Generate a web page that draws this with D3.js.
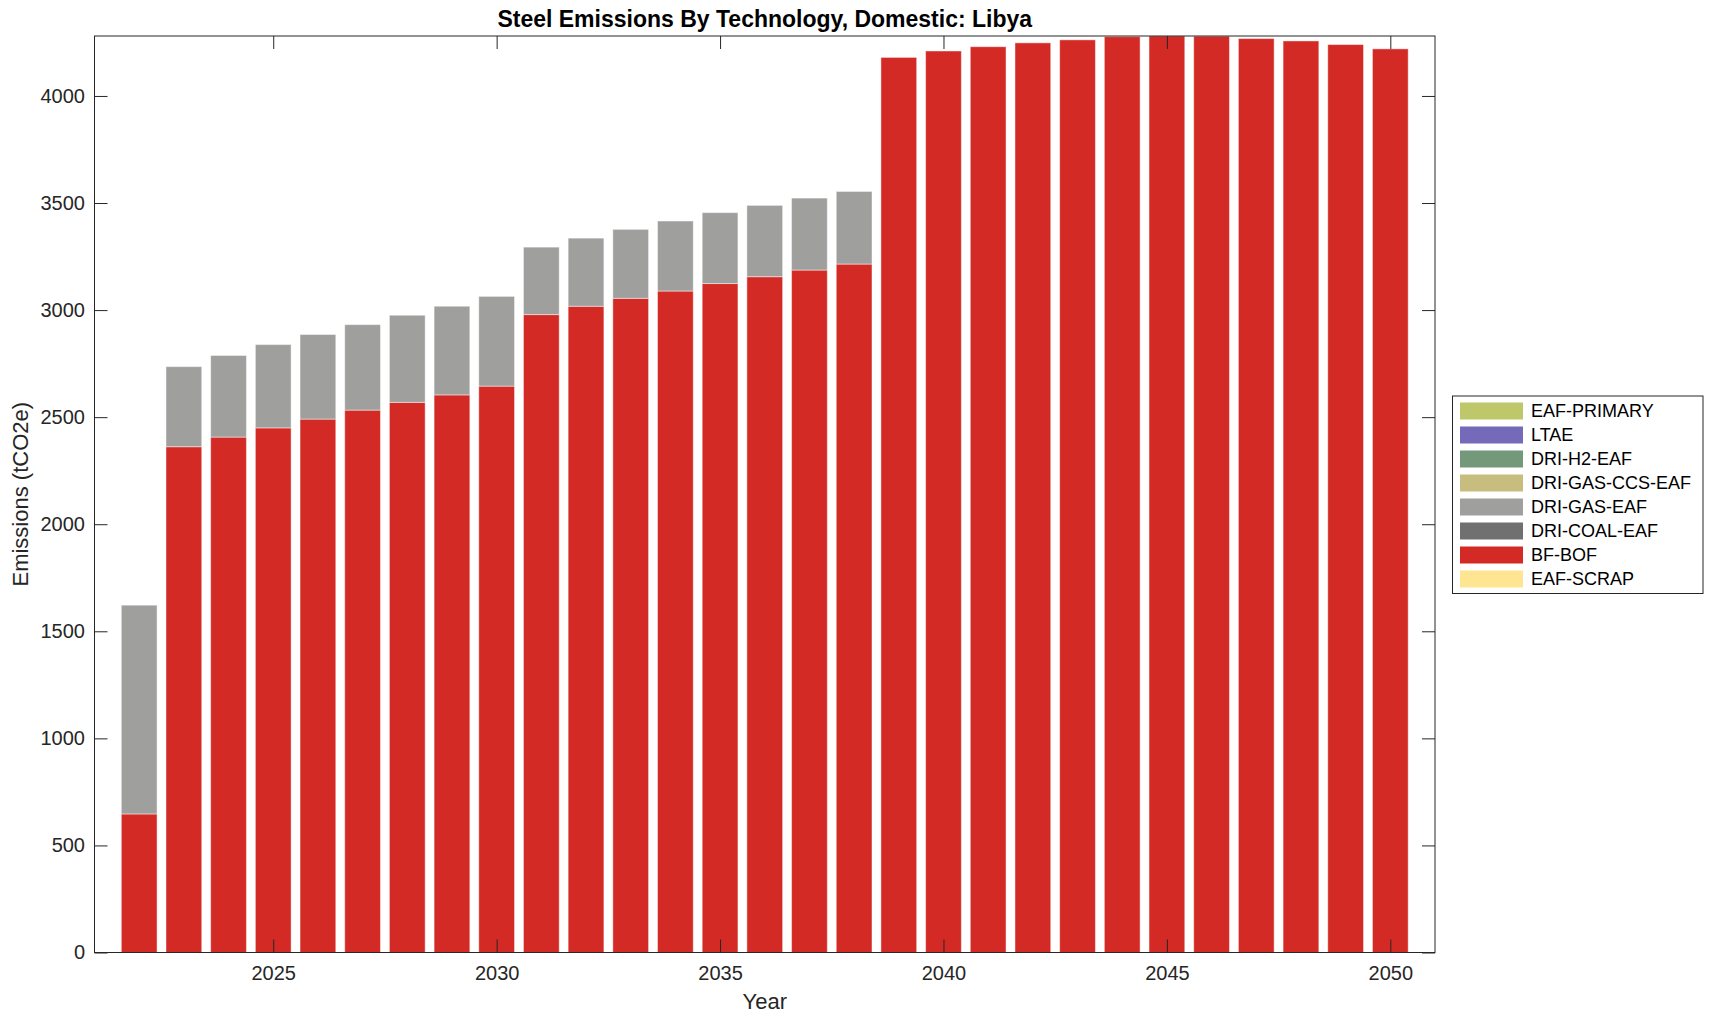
<!DOCTYPE html>
<html>
<head>
<meta charset="utf-8">
<script src="https://cdn.jsdelivr.net/npm/d3@7"></script>
<style>
  body { margin: 0; background: #fff; }
  text { font-family: "Liberation Sans", Arial, Helvetica, sans-serif; }
</style>
</head>
<body>
<div id="chart"></div>
<script>
const width = 1714, height = 1021;
const plotLeft = 94.5, plotRight = 1435, plotTop = 36, plotBottom = 952.5;

const years = [2022, 2023, 2024, 2025, 2026, 2027, 2028, 2029, 2030, 2031, 2032, 2033, 2034, 2035, 2036,
  2037, 2038, 2039, 2040, 2041, 2042, 2043, 2044, 2045, 2046, 2047, 2048, 2049, 2050];

// emissions per technology (tCO2e)
const bfBof = [647, 2362, 2407, 2450, 2491, 2533, 2569, 2604, 2645, 2979, 3018, 3055, 3089, 3124, 3156,
  3187, 3215, 4180, 4210, 4230, 4248, 4262, 4277, 4280, 4279, 4268, 4257, 4240, 4220];
const driGasEaf = [975, 374, 381, 389, 395, 399, 407, 414, 419, 315, 318, 322, 327, 331, 333,
  336, 339, 0, 0, 0, 0, 0, 0, 0, 0, 0, 0, 0, 0];
const noEmissions = [0, 0, 0, 0, 0, 0, 0, 0, 0, 0, 0, 0, 0, 0, 0, 0, 0, 0, 0, 0, 0, 0, 0, 0, 0, 0, 0, 0, 0];

// stacking order, bottom first
const techNames = ["EAF-SCRAP", "BF-BOF", "DRI-COAL-EAF", "DRI-GAS-EAF", "DRI-GAS-CCS-EAF", "DRI-H2-EAF", "LTAE", "EAF-PRIMARY"];
const techValues = [noEmissions, bfBof, noEmissions, driGasEaf, noEmissions, noEmissions, noEmissions, noEmissions];
const techColors = ["#fee592", "#d42a25", "#707070", "#9f9f9e", "#c6bd7e", "#73987a", "#756ab9", "#bec76a"];

const yTicks = [0, 500, 1000, 1500, 2000, 2500, 3000, 3500, 4000];
const xTicks = [2025, 2030, 2035, 2040, 2045, 2050];

var rows = years.map((yr, i) => {
  var r = {year: yr};
  techNames.forEach((t, j) => r[t] = techValues[j][i]);
  return r;
});
var series = d3.stack().keys(techNames)(rows);
var total = d3.max(rows, r => d3.sum(techNames, t => r[t]));

var x = d3.scaleLinear().domain([2021, 2051]).range([plotLeft, plotRight]);
var y = d3.scaleLinear().domain([0, total]).range([plotBottom, plotTop]);
var color = d3.scaleOrdinal().domain(techNames).range(techColors);

const svg = d3.select("#chart").append("svg")
  .attr("width", width).attr("height", height);

svg.append("clipPath").attr("id", "plot")
  .append("rect").attr("x", plotLeft).attr("y", plotTop)
  .attr("width", plotRight - plotLeft).attr("height", plotBottom - plotTop);

svg.append("g").attr("clip-path", "url(#plot)")
  .selectAll("g")
  .data(series)
  .enter().append("g")
    .attr("fill", d => color(d.key))
    .selectAll("rect")
    .data(d => d.filter(p => p[1] - p[0] > 0))
    .enter().append("rect")
      .attr("x", d => x(d.data.year - 0.4))
      .attr("width", d => x(d.data.year + 0.4) - x(d.data.year - 0.4))
      .attr("y", d => y(d[1]))
      .attr("height", d => y(d[0]) - y(d[1]))
      .attr("stroke", "rgba(255,255,255,0.45)")
      .attr("stroke-width", 1);

// axes, ticks pointing inward
function styleAxis(g) {
  g.select(".domain").remove();
  g.selectAll(".tick line").attr("stroke", "#262626");
  g.selectAll(".tick text").attr("fill", "#262626")
    .style("font-family", '"Liberation Sans", Arial, sans-serif').style("font-size", "20px");
}
svg.append("g").attr("transform", "translate(0," + plotBottom + ")")
  .call(d3.axisBottom(x).tickValues(xTicks).tickFormat(d3.format("d")).tickSize(-13).tickPadding(13.5))
  .call(styleAxis);
svg.append("g").attr("transform", "translate(0," + plotTop + ")")
  .call(d3.axisTop(x).tickValues(xTicks).tickFormat("").tickSize(-13))
  .call(styleAxis);
svg.append("g").attr("transform", "translate(" + plotLeft + ",0)")
  .call(d3.axisLeft(y).tickValues(yTicks).tickFormat(d3.format("d")).tickSize(-13).tickPadding(9.5))
  .call(styleAxis);
svg.append("g").attr("transform", "translate(" + plotRight + ",0)")
  .call(d3.axisRight(y).tickValues(yTicks).tickFormat("").tickSize(-13))
  .call(styleAxis);

svg.append("rect")
  .attr("x", plotLeft).attr("y", plotTop)
  .attr("width", plotRight - plotLeft).attr("height", plotBottom - plotTop)
  .attr("fill", "none").attr("stroke", "#262626").attr("stroke-width", 1);

svg.append("text")
  .attr("x", (plotLeft + plotRight) / 2).attr("y", 27)
  .attr("text-anchor", "middle")
  .style("font-size", "23px").style("font-weight", "bold").attr("fill", "#000")
  .text("Steel Emissions By Technology, Domestic: Libya");

svg.append("text")
  .attr("x", (plotLeft + plotRight) / 2).attr("y", 1009)
  .attr("text-anchor", "middle")
  .style("font-size", "22px").attr("fill", "#262626")
  .text("Year");

svg.append("text")
  .attr("transform", "translate(28," + (plotTop + plotBottom) / 2 + ") rotate(-90)")
  .attr("text-anchor", "middle")
  .style("font-size", "22px").attr("fill", "#262626")
  .text("Emissions (tCO2e)");

// legend, top entry is the last stacked series
const legend = svg.append("g").attr("transform", "translate(1452.5,396)");
legend.append("rect")
  .attr("width", 250.5).attr("height", 197.5)
  .attr("fill", "#fff").attr("stroke", "#262626").attr("stroke-width", 1);

const item = legend.selectAll("g.item")
  .data(techNames.slice().reverse())
  .enter().append("g")
    .attr("class", "item")
    .attr("transform", (d, i) => "translate(0," + (15 + i * 24) + ")");
item.append("rect")
  .attr("x", 7.5).attr("y", -8.5).attr("width", 63).attr("height", 17)
  .attr("fill", d => color(d));
item.append("text")
  .attr("x", 78.5).attr("dy", "0.35em")
  .style("font-size", "18px").attr("fill", "#000")
  .text(d => d);
</script>
</body>
</html>
